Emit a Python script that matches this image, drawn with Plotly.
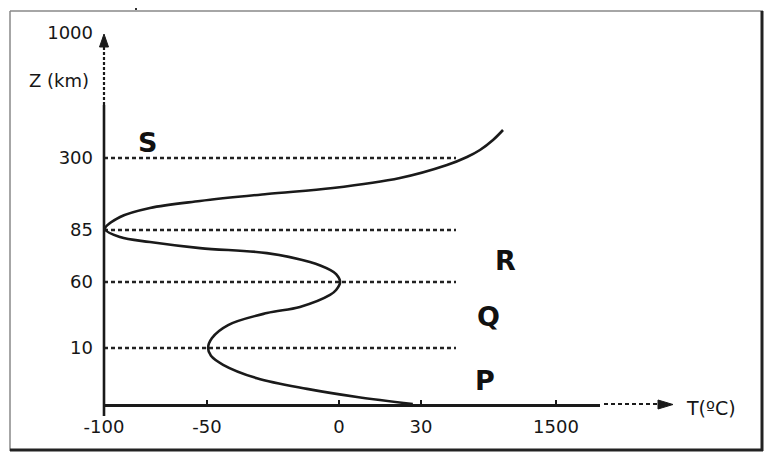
import numpy as np
import plotly.graph_objects as go

# ---- data ----
temp_c = [27, 6.6, -12.1, -31.1, -43.9, -48.5, -49.6, -48.1, -42.0, -27.3, -14.8, -3.4, -1.1, 0.4,
          -1.1, -3.4, -11.0, -27.3, -53.4, -77.7, -92.2, -99.5, -92.2, -77.7, -53.4, -27.3, -2.3,
          22.3, 313, 531, 672, 814, 923]
alt_km = [0, 1.25, 2.7, 4.6, 7.0, 8.6, 10, 17.6, 27.4, 36.5, 41.1, 50.2, 53.9, 60,
          63.8, 65.8, 69.6, 73.9, 76.3, 79.2, 81.6, 88.0, 123.8, 150.7, 171.6, 192.5, 210.4,
          240.3, 279.1, 305.6, 344.8, 400.8, 456.8]

x_tick_values = [-100, -50, 0, 30, 1500]
x_tick_labels = ["-100", "-50", "0", "30", "1500"]
y_tick_values = [0, 10, 60, 85, 300, 1000]
y_tick_labels = ["", "10", "60", "85", "300", "1000"]
level_km = [300, 85, 60, 10]
layer_names = ["S", "R", "Q", "P"]

# ---- schematic (non-linear) axis layout, in screen pixels ----
SW, SH = 773, 463
OFF = 8                                   # page body margin
W, H = SW - 2 * OFF, SH - 2 * OFF
Ls, Rs, Ts, Bs = 104, 600, 33, 404        # plot area (screen px)
x_tick_pos = [0, 103, 235, 317, 452]
y_tick_pos = [0, 56, 122, 174, 246, 371]
guide_end = 352

def xmap(v):
    return np.interp(v, x_tick_values, x_tick_pos)

def ymap(v):
    return np.interp(v, y_tick_values, y_tick_pos)

def px(x):
    return (x - Ls) / (Rs - Ls)

def py(y):
    return (Bs - y) / (Bs - Ts)

INK = "#1a1a1a"
TXT = "#161616"
FONT = "DejaVu Sans"

fig = go.Figure()

# dotted level lines
for lv in level_km:
    fig.add_trace(go.Scatter(
        x=[xmap(-100), guide_end], y=[ymap(lv), ymap(lv)], mode="lines",
        line=dict(color="#222", width=2.5, dash="4px,3px"),
        hoverinfo="skip", showlegend=False, cliponaxis=False))

# temperature profile
fig.add_trace(go.Scatter(
    x=xmap(temp_c), y=ymap(alt_km), mode="lines",
    line=dict(color=INK, width=2.6, shape="spline", smoothing=1.0),
    showlegend=False, cliponaxis=False))

shapes = []
# frame
shapes.append(dict(type="line", xref="paper", yref="paper", x0=px(10), x1=px(10), y0=py(11), y1=py(451),
                   line=dict(color="#888", width=1.5)))
shapes.append(dict(type="line", xref="paper", yref="paper", x0=px(10), x1=px(763), y0=py(11), y1=py(11),
                   line=dict(color="#888", width=1.5)))
shapes.append(dict(type="line", xref="paper", yref="paper", x0=px(762), x1=px(762), y0=py(11), y1=py(451),
                   line=dict(color="#222", width=3)))
shapes.append(dict(type="line", xref="paper", yref="paper", x0=px(10), x1=px(763), y0=py(450), y1=py(450),
                   line=dict(color="#222", width=3)))
shapes.append(dict(type="line", xref="paper", yref="paper", x0=px(136), x1=px(136), y0=py(2), y1=py(10),
                   line=dict(color="#333", width=2)))
# y axis: solid part, dotted part, arrow head
shapes.append(dict(type="line", xref="paper", yref="paper", x0=0, x1=0, y0=py(416), y1=py(105),
                   line=dict(color=INK, width=2.6)))
shapes.append(dict(type="line", xref="paper", yref="paper", x0=0, x1=0, y0=py(105), y1=py(46),
                   line=dict(color=INK, width=2.2, dash="3px,2px")))
shapes.append(dict(type="path", xref="paper", yref="paper",
                   path=f"M {px(99.5)} {py(47)} L {px(108.5)} {py(47)} L {px(104)} {py(34)} Z",
                   fillcolor=INK, line=dict(color=INK, width=1)))
# x axis dotted extension and arrow head
shapes.append(dict(type="line", xref="paper", yref="paper", x0=px(604), x1=px(658), y0=0, y1=0,
                   line=dict(color=INK, width=2.2, dash="4px,3px")))
shapes.append(dict(type="path", xref="paper", yref="paper",
                   path=f"M {px(658)} {py(400)} L {px(658)} {py(409)} L {px(673)} {py(404.5)} Z",
                   fillcolor=INK, line=dict(color=INK, width=1)))

annotations = []
annotations.append(dict(xref="paper", yref="paper", x=px(91), y=py(80), xanchor="right", yanchor="middle",
                        text="Z (km)", showarrow=False, font=dict(family=FONT, size=18, color=TXT)))
annotations.append(dict(xref="paper", yref="paper", x=px(684), y=py(408), xanchor="left", yanchor="middle",
                        text="T(ºC)", showarrow=False, font=dict(family=FONT, size=19, color=TXT)))
layer_px = [(147, 142), (505, 260), (488, 316), (485, 380)]
for name, (lx, ly) in zip(layer_names, layer_px):
    annotations.append(dict(xref="paper", yref="paper", x=px(lx), y=py(ly), xanchor="center", yanchor="middle",
                            text=f"<b>{name}</b>", showarrow=False, font=dict(family=FONT, size=27, color="#111")))

fig.update_layout(
    width=W, height=H,
    margin=dict(l=Ls - OFF, r=W - (Rs - OFF), t=Ts - OFF, b=H - (Bs - OFF), pad=0),
    paper_bgcolor="white", plot_bgcolor="white",
    shapes=shapes, annotations=annotations,
    xaxis=dict(range=[0, Rs - Ls], tickmode="array", tickvals=[xmap(v) for v in x_tick_values],
               ticktext=x_tick_labels, showline=True, linecolor=INK, linewidth=2.6,
               ticks="inside", ticklen=4, tickwidth=2, tickcolor=INK,
               showgrid=False, zeroline=False, ticklabelstandoff=5,
               tickfont=dict(family=FONT, size=18, color=TXT)),
    yaxis=dict(range=[0, Bs - Ts], tickmode="array", tickvals=[ymap(v) for v in y_tick_values],
               ticktext=y_tick_labels, showline=False, ticks="",
               showgrid=False, zeroline=False, ticklabelstandoff=10,
               tickfont=dict(family=FONT, size=18, color=TXT)),
)

fig.write_html("out.html")
